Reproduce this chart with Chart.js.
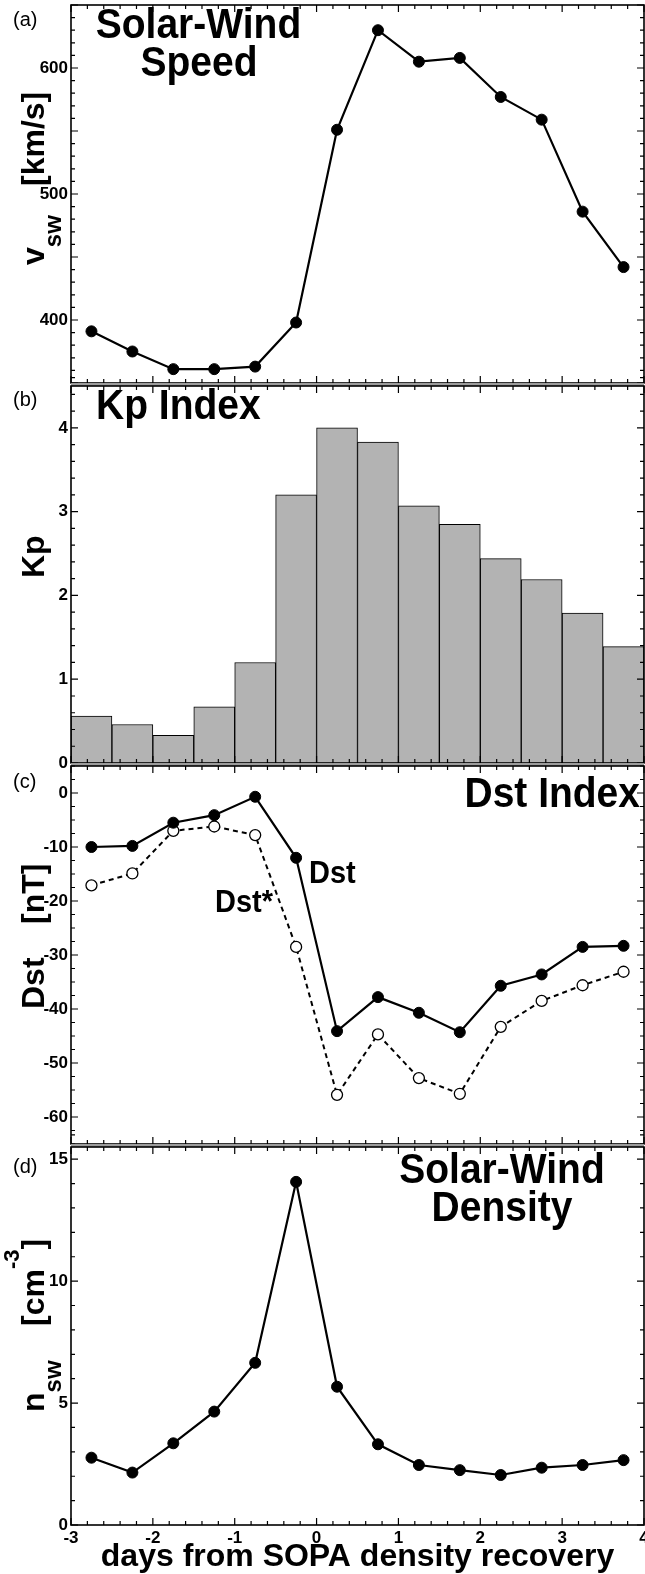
<!DOCTYPE html>
<html><head><meta charset="utf-8">
<script src="https://cdn.jsdelivr.net/npm/chart.js@4.4.1/dist/chart.umd.min.js"></script>
<style>
html,body{margin:0;padding:0;background:#fff;}
#wrap{position:relative;width:645px;height:1574px;overflow:hidden;background:#fff;}
canvas{position:absolute;left:0;top:0;}
</style></head><body><div id="wrap">
<canvas id="c0" width="645" height="1574"></canvas>
<canvas id="c1" width="645" height="1574"></canvas>
<canvas id="c2" width="645" height="1574"></canvas>
<canvas id="c3" width="645" height="1574"></canvas>
</div>
<script>
// ---------------- data ----------------
const days = [-2.75,-2.25,-1.75,-1.25,-0.75,-0.25,0.25,0.75,1.25,1.75,2.25,2.75,3.25,3.75];
const speed = [391,375,361,361,363,398,551,630,605,608,577,559,486,442];
const kp = [0.56,0.46,0.33,0.67,1.2,3.2,4.0,3.83,3.07,2.85,2.44,2.19,1.79,1.39];
const dst = [-10.0,-9.8,-5.5,-4.1,-0.7,-12.0,-44.1,-37.8,-40.7,-44.3,-35.7,-33.6,-28.5,-28.3];
const dstStar = [-17.1,-14.9,-7.0,-6.2,-7.8,-28.5,-55.9,-44.7,-52.8,-55.7,-43.3,-38.5,-35.6,-33.1];
const density = [2.76,2.15,3.35,4.65,6.65,14.07,5.67,3.31,2.46,2.25,2.05,2.35,2.46,2.66];

const xTicks = [-3,-2,-1,0,1,2,3,4];
const speedTicks = [400,500,600];
const kpTicks = [0,1,2,3,4];
const dstTicks = [0,-10,-20,-30,-40,-50,-60];
const densityTicks = [0,5,10,15];

const xTitle = 'days from SOPA density recovery';
const panelLabels = ['(a)','(b)','(c)','(d)'];

// ---------------- layout / style ----------------
const W = 645, H = 1574;
const FAM = '"Liberation Sans", Arial, Helvetica, sans-serif';
const panels = [
  {top:5,   bottom:383},
  {top:386, bottom:763},
  {top:766, bottom:1144},
  {top:1147,bottom:1525}
];
const tickFont = {family:FAM, size:17, weight:'bold'};

function toXY(ys){ return days.map((d,i)=>({x:d, y:ys[i]})); }

function drawRun(ctx, text, font, x, y, rot, align, sy){
  ctx.save();
  ctx.font = font;
  ctx.fillStyle = '#000';
  ctx.textBaseline = 'alphabetic';
  ctx.textAlign = align || 'left';
  ctx.translate(x, y);
  if (rot) ctx.rotate(-Math.PI/2);
  if (sy) ctx.scale(1, sy);
  ctx.fillText(text, 0, 0);
  const w = ctx.measureText(text).width;
  ctx.restore();
  return w;
}
function B(s){ return 'bold ' + s + 'px ' + FAM; }
const TS = 1.1; // vertical stretch of the big panel titles

const framePlugin = {
  id:'frame',
  beforeDraw(chart, args, o){
    const {ctx, chartArea:{left,right,top}} = chart;
    if (o.gapAbove) {
      ctx.save(); ctx.fillStyle = '#9c9c9c';
      ctx.fillRect(left, top-3, right-left, 3);
      ctx.restore();
    }
  },
  afterDatasetsDraw(chart, args, o){
    const {ctx, chartArea:{left,right,top,bottom}} = chart;
    const xs = chart.scales.x, ys = chart.scales.y;
    ctx.save();
    ctx.strokeStyle = '#000';
    ctx.lineWidth = 1.2;
    ctx.beginPath();
    let n = Math.round((xs.max - xs.min)/0.2);
    for (let i=0;i<=n;i++){
      const v = xs.min + i*0.2;
      const major = Math.abs(v - Math.round(v)) < 1e-6;
      const len = major ? 7 : 4;
      const px = xs.getPixelForValue(v);
      ctx.moveTo(px, bottom); ctx.lineTo(px, bottom-len);
      ctx.moveTo(px, top); ctx.lineTo(px, top+len);
    }
    const st = o.yMinor, mj = o.yMajor;
    n = Math.round((ys.max - ys.min)/st);
    for (let i=0;i<=n;i++){
      const v = ys.min + i*st;
      const major = Math.abs(v/mj - Math.round(v/mj)) < 1e-6;
      const len = major ? 7 : 4;
      const py = ys.getPixelForValue(v);
      ctx.moveTo(left, py); ctx.lineTo(left+len, py);
      ctx.moveTo(right, py); ctx.lineTo(right-len, py);
    }
    ctx.stroke();
    ctx.lineWidth = 1.6;
    ctx.strokeRect(left, top, right-left, bottom-top);
    ctx.restore();
  },
  afterDraw(chart, args, o){
    if (o.texts) o.texts(chart.ctx, chart);
  }
};
Chart.register(framePlugin);

function makeOptions(idx, yMin, yMax, yTicks, yMinor, yMajor, texts){
  const p = panels[idx];
  const showX = idx === 3;
  return {
    responsive:false, animation:false, devicePixelRatio:1,
    layout:{autoPadding:false, padding:{left:0, right:1, top:p.top, bottom: showX ? 0 : (H - p.bottom)}},
    plugins:{
      legend:{display:false}, tooltip:{enabled:false}, title:{display:false},
      frame:{gapAbove: idx>0, yMinor, yMajor, texts}
    },
    events:[],
    scales:{
      x:{type:'linear', min:-3, max:4, offset:false, display:showX,
         grid:{display:false, drawTicks:false}, border:{display:false},
         afterBuildTicks: s => { s.ticks = xTicks.map(v=>({value:v})); },
         afterFit: s => {
           if (showX) s.height = H - p.bottom;
           s.paddingLeft = 0; s.paddingRight = 0; s.paddingTop = 0; s.paddingBottom = 0;
         },
         ticks:{font:tickFont, color:'#000', padding:3, maxRotation:0, autoSkip:false},
         title:{display:showX, text:xTitle, color:'#000', font:{family:FAM, size:32, weight:'bold'}, padding:{top:0,bottom:-2}}
      },
      y:{type:'linear', min:yMin, max:yMax,
         grid:{display:false, drawTicks:false}, border:{display:false},
         afterBuildTicks: s => { s.ticks = yTicks.map(v=>({value:v})); },
         afterFit: s => { s.width = 71; s.paddingLeft = 0; s.paddingRight = 0; s.paddingTop = 0; s.paddingBottom = 0; },
         ticks:{font:tickFont, color:'#000', padding:3}
      }
    }
  };
}

function panelLabel(ctx, i, cy){
  ctx.save();
  ctx.font = '20px ' + FAM; ctx.fillStyle = '#000';
  ctx.textBaseline = 'middle'; ctx.textAlign = 'left';
  ctx.fillText(panelLabels[i], 13, cy);
  ctx.restore();
}

const lineDs = (data) => ({
  data, borderColor:'#000', borderWidth:2.2, pointRadius:5.5, pointHoverRadius:5.5,
  pointBackgroundColor:'#000', pointBorderColor:'#000', pointBorderWidth:1, tension:0, fill:false
});

// ---------- (a) speed ----------
new Chart(document.getElementById('c0'), {
  type:'line',
  data:{datasets:[lineDs(toXY(speed))]},
  options: makeOptions(0, 350, 650, speedTicks, 10, 50, (ctx)=>{
    panelLabel(ctx, 0, 20);
    drawRun(ctx, 'Solar-Wind', B(39), 198.5, 38, false, 'center', TS);
    drawRun(ctx, 'Speed', B(39), 199, 76, false, 'center', TS);
    let y = 265;
    y -= drawRun(ctx, 'v', B(32), 44, y, true);
    drawRun(ctx, 'sw', B(24), 61, y, true);
    drawRun(ctx, '[km/s]', B(32), 44, 186, true);
  })
});

// ---------- (b) Kp ----------
new Chart(document.getElementById('c1'), {
  type:'bar',
  data:{datasets:[{data:toXY(kp), backgroundColor:'#b3b3b3', borderColor:'#000', borderWidth:1,
    barPercentage:1, categoryPercentage:1, borderSkipped:'bottom'}]},
  options: makeOptions(1, 0, 4.5, kpTicks, 0.2, 1, (ctx)=>{
    panelLabel(ctx, 1, 400);
    drawRun(ctx, 'Kp Index', B(39), 96, 419, false, 'left', TS);
    drawRun(ctx, 'Kp', B(32), 44, 578, true);
  })
});

// ---------- (c) Dst ----------
new Chart(document.getElementById('c2'), {
  type:'line',
  data:{datasets:[
    lineDs(toXY(dst)),
    {data:toXY(dstStar), borderColor:'#000', borderWidth:2, borderDash:[5,4], pointRadius:5.5, pointHoverRadius:5.5,
     pointBackgroundColor:'#fff', pointBorderColor:'#000', pointBorderWidth:1.3, tension:0, fill:false}
  ]},
  options: makeOptions(2, -65, 5, dstTicks, 2.5, 10, (ctx)=>{
    panelLabel(ctx, 2, 782);
    drawRun(ctx, 'Dst Index', B(39), 640, 807, false, 'right', TS);
    drawRun(ctx, 'Dst', B(29), 309, 883, false, 'left', 1.05);
    drawRun(ctx, 'Dst*', B(29), 215, 912, false, 'left', 1.05);
    drawRun(ctx, 'Dst', B(32), 44, 1009, true);
    drawRun(ctx, '[nT]', B(32), 44, 924, true);
  })
});

// ---------- (d) density ----------
new Chart(document.getElementById('c3'), {
  type:'line',
  data:{datasets:[lineDs(toXY(density))]},
  options: makeOptions(3, 0, 15.5, densityTicks, 1, 5, (ctx)=>{
    panelLabel(ctx, 3, 1167);
    drawRun(ctx, 'Solar-Wind', B(39), 502, 1183, false, 'center', TS);
    drawRun(ctx, 'Density', B(39), 502, 1221, false, 'center', TS);
    let y = 1412;
    y -= drawRun(ctx, 'n', B(32), 44, y, true);
    drawRun(ctx, 'sw', B(24), 61, y, true);
    y = 1326;
    y -= drawRun(ctx, '[cm', B(32), 44, y, true);
    y -= drawRun(ctx, '-3', B(22), 19, y, true);
    drawRun(ctx, ']', B(32), 44, y, true);
  })
});
</script>
</body></html>
